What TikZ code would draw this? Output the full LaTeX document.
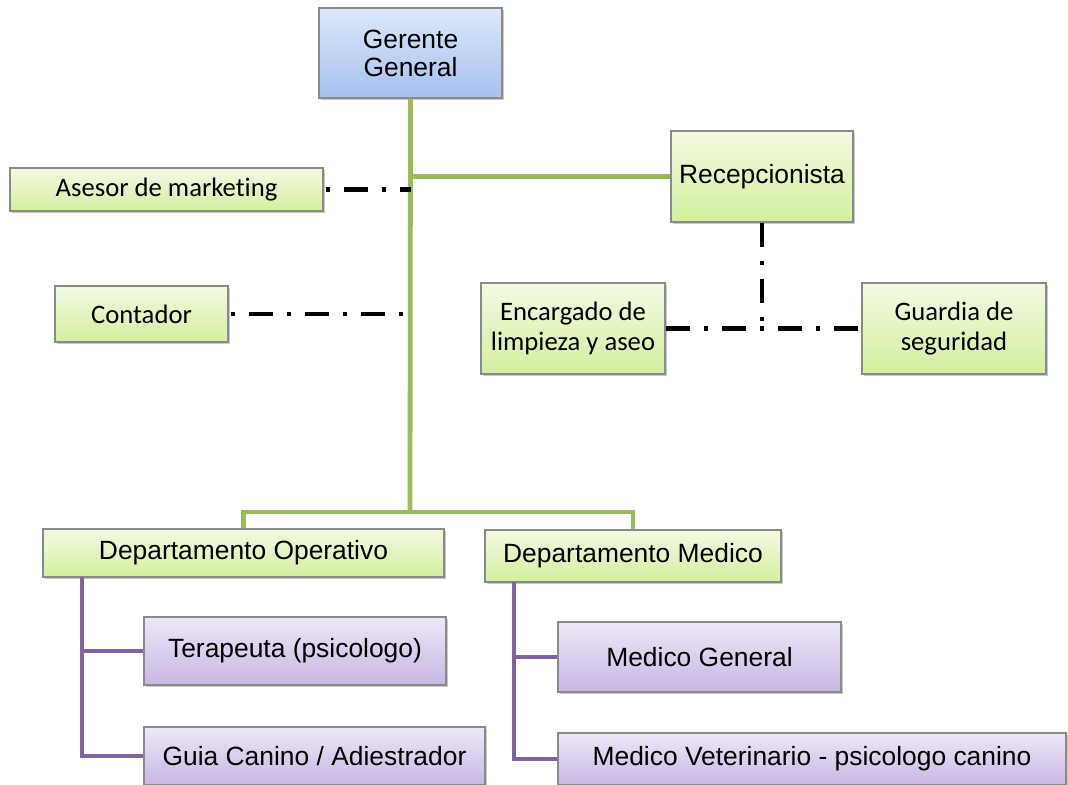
\documentclass[tikz,border=0pt]{standalone}
\usepackage{fontspec}
\setmainfont{Liberation Sans}
\newfontfamily\calibri[Ligatures=NoCommon]{Carlito}
\usepackage{tikz}
\usepackage{xcolor}
\usetikzlibrary{positioning,shadows}
\definecolor{leafgreen}{HTML}{9BBB59}
\definecolor{leafviolet}{HTML}{8064A2}
\definecolor{boxedge}{HTML}{8A8A8A}
\definecolor{greentop}{HTML}{F3FAE3}
\definecolor{greenbot}{HTML}{D3EF9E}
\definecolor{violettop}{HTML}{EEE8F7}
\definecolor{violetbot}{HTML}{C7B7E5}
\definecolor{bluetop}{HTML}{DEE8FA}
\definecolor{bluebot}{HTML}{A5C1EE}

\begin{document}
\begin{tikzpicture}[x=0.75pt,y=-0.75pt,every node/.style={font=\fontsize{19.8}{21}\selectfont}]
    \tikzstyle{b}=[draw=boxedge,line width=0.8pt,align=center,inner sep=2pt,
                   drop shadow={shadow xshift=1.5pt,shadow yshift=-1.5pt,opacity=0.3,fill=black!70}];
    \tikzstyle{gbox}=[b,top color=greentop,bottom color=greenbot];
    \tikzstyle{vbox}=[b,top color=violettop,bottom color=violetbot];
    \tikzstyle{bbox}=[b,top color=bluetop,bottom color=bluebot];
    \tikzstyle{cal}=[font=\calibri\fontsize{20}{23}\selectfont];
    \tikzstyle{gline}=[draw=leafgreen,line width=3.6pt];
    \tikzstyle{vline}=[draw=leafviolet,line width=3.6pt];
    \tikzstyle{dline}=[draw=black,line width=3.4pt,dash pattern=on 18pt off 10.5pt on 3pt off 10.5pt];

    \useasboundingbox (0,0) rectangle (1068,785);

    % head and staff
    \node[bbox,minimum width=137.25pt,minimum height=67.5pt] (gg) at (410.5,53) {Gerente\\General};
    \node[gbox,cal,minimum width=234.75pt,minimum height=32.25pt] (ase) at (166.5,189.5) {Asesor de marketing};
    \node[gbox,cal,minimum width=129.75pt,minimum height=42pt] (cont) at (141.5,314) {Contador};
    \node[gbox,minimum width=136.5pt,minimum height=68.25pt] (rec) at (762,176.5) {Recepcionista};
    \node[gbox,cal,minimum width=138pt,minimum height=68.25pt] (enc) at (573,328.5) {Encargado de\\limpieza y aseo};
    \node[gbox,cal,minimum width=138pt,minimum height=68.25pt] (gua) at (954,328.5) {Guardia de\\seguridad};

    % departments
    \node[gbox,minimum width=300.75pt,minimum height=36pt] (dop) at (243.5,553) {Departamento Operativo};
    \node[gbox,minimum width=222pt,minimum height=39pt] (dme) at (633,556) {Departamento Medico};
    \node[vbox,minimum width=226.5pt,minimum height=51pt] (ter) at (295,651) {Terapeuta (psicologo)};
    \node[vbox,minimum width=255.75pt,minimum height=43.5pt] (gui) at (314.5,756) {Guia Canino / Adiestrador};
    \node[vbox,minimum width=212.25pt,minimum height=52.5pt] (mge) at (699.5,657) {Medico General};
    \node[vbox,minimum width=381pt,minimum height=39pt] (mve) at (812,759) {Medico Veterinario - psicologo canino};

    % connectors
    \coordinate (split) at (410,512);
    \draw[gline] (gg.south) -- (split);
    \draw[gline] (rec.west) -- (rec.west -| gg.south);
    \draw[gline] (dop.north) |- (split) -| (dme.north);
    \draw[dline,dash phase=27pt] (ase.east) -- (ase.east -| gg.south);
    \draw[dline,dash phase=27pt] (cont.east) -- (cont.east -| gg.south);
    \coordinate (rj) at (rec.south |- enc.east);
    \draw[dline] (rec.south) -- (rj);
    \draw[dline] (enc.east) -- (gua.west);

    \coordinate (opx) at (82,577);
    \coordinate (mdx) at (514,582);
    \draw[vline] (opx) |- (ter.west);
    \draw[vline] (opx) |- (gui.west);
    \draw[vline] (mdx) |- (mge.west);
    \draw[vline] (mdx) |- (mve.west);
\end{tikzpicture}
\end{document}
